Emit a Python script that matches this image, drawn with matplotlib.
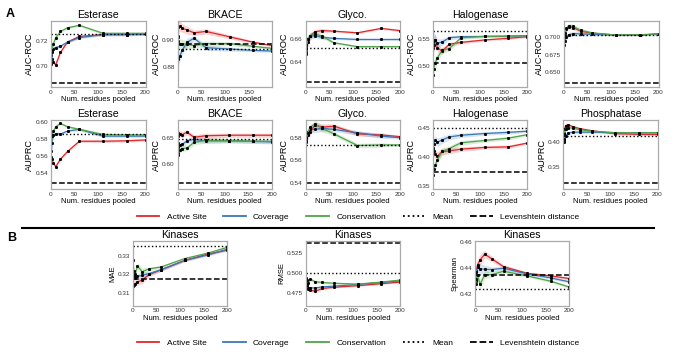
import matplotlib
matplotlib.use("Agg")
import matplotlib.pyplot as plt
from matplotlib.lines import Line2D
from matplotlib.ticker import MultipleLocator, FormatStrFormatter

plt.rcParams['font.family'] = ['Liberation Sans', 'DejaVu Sans']

# number of residues pooled
x = [1, 2, 5, 10, 20, 35, 60, 110, 160, 200]

# ---- panel A, AUC-ROC row ----
est_roc_red = [0.709, 0.706, 0.703, 0.701, 0.711, 0.7195, 0.724, 0.7255, 0.7255, 0.726]
est_roc_blue = [0.702, 0.711, 0.714, 0.715, 0.716, 0.7195, 0.723, 0.7255, 0.7255, 0.7258]
est_roc_green = [0.711, 0.713, 0.718, 0.723, 0.728, 0.731, 0.733, 0.7265, 0.7265, 0.7265]
est_roc_band = [0.002, 0.002, 0.0015, 0.0015, 0.001, 0.001, 0.001, 0.001, 0.001, 0.001]

bk_roc_red = [0.903, 0.909, 0.910, 0.9085, 0.907, 0.905, 0.906, 0.902, 0.898, 0.8955]
bk_roc_blue = [0.887, 0.886, 0.888, 0.892, 0.898, 0.901, 0.894, 0.893, 0.892, 0.8915]
bk_roc_green = [0.902, 0.899, 0.897, 0.897, 0.8965, 0.8955, 0.897, 0.897, 0.895, 0.8935]
bk_roc_band = [0.006, 0.005, 0.004, 0.003, 0.003, 0.002, 0.002, 0.0015, 0.001, 0.001]

gly_roc_red = [0.649, 0.652, 0.658, 0.663, 0.667, 0.668, 0.6675, 0.666, 0.670, 0.668]
gly_roc_blue = [0.647, 0.655, 0.660, 0.663, 0.6635, 0.662, 0.661, 0.660, 0.660, 0.660]
gly_roc_green = [0.651, 0.655, 0.660, 0.6635, 0.665, 0.663, 0.657, 0.6535, 0.6535, 0.6535]
gly_roc_band = [0.01, 0.006, 0.004, 0.003, 0.002, 0.002, 0.001, 0.001, 0.001, 0.001]

hal_roc_red = [0.535, 0.540, 0.548, 0.535, 0.528, 0.541, 0.5445, 0.549, 0.552, 0.555]
hal_roc_blue = [0.545, 0.549, 0.548, 0.543, 0.545, 0.553, 0.555, 0.5555, 0.556, 0.557]
hal_roc_green = [0.485, 0.495, 0.506, 0.516, 0.530, 0.533, 0.553, 0.5555, 0.556, 0.557]
hal_roc_band = [0.02, 0.015, 0.012, 0.008, 0.006, 0.004, 0.003, 0.002, 0.002, 0.002]

pho_roc_red = [0.696, 0.703, 0.711, 0.714, 0.713, 0.708, 0.705, 0.7025, 0.7025, 0.704]
pho_roc_blue = [0.689, 0.694, 0.700, 0.703, 0.7045, 0.704, 0.7035, 0.7025, 0.7025, 0.704]
pho_roc_green = [0.700, 0.706, 0.712, 0.7155, 0.7145, 0.709, 0.7055, 0.7025, 0.703, 0.704]
pho_roc_band = [0.006, 0.005, 0.004, 0.003, 0.003, 0.003, 0.002, 0.001, 0.001, 0.001]

# ---- panel A, AUPRC row ----
est_prc_red = [0.558, 0.556, 0.551, 0.547, 0.556, 0.565, 0.577, 0.577, 0.5775, 0.5785]
est_prc_blue = [0.565, 0.575, 0.584, 0.586, 0.5855, 0.589, 0.591, 0.583, 0.583, 0.583]
est_prc_green = [0.575, 0.583, 0.589, 0.594, 0.598, 0.594, 0.591, 0.585, 0.5845, 0.5845]
est_prc_band = [0.002, 0.002, 0.002, 0.002, 0.0015, 0.0015, 0.0015, 0.0015, 0.0015, 0.0015]

bk_prc_red = [0.655, 0.660, 0.659, 0.657, 0.662, 0.652, 0.655, 0.656, 0.656, 0.656]
bk_prc_blue = [0.633, 0.640, 0.637, 0.638, 0.645, 0.648, 0.645, 0.645, 0.644, 0.643]
bk_prc_green = [0.617, 0.622, 0.628, 0.630, 0.631, 0.642, 0.646, 0.6455, 0.6445, 0.644]
bk_prc_band = [0.008, 0.007, 0.006, 0.006, 0.005, 0.005, 0.005, 0.004, 0.004, 0.004]

gly_prc_red = [0.578, 0.580, 0.583, 0.586, 0.592, 0.590, 0.591, 0.584, 0.583, 0.5815]
gly_prc_blue = [0.578, 0.582, 0.586, 0.588, 0.588, 0.589, 0.588, 0.585, 0.582, 0.5805]
gly_prc_green = [0.577, 0.580, 0.585, 0.590, 0.593, 0.589, 0.584, 0.5735, 0.574, 0.574]
gly_prc_band = [0.004, 0.004, 0.004, 0.003, 0.003, 0.003, 0.002, 0.002, 0.002, 0.001]

hal_prc_red = [0.412, 0.410, 0.404, 0.401, 0.409, 0.410, 0.413, 0.416, 0.417, 0.4235]
hal_prc_blue = [0.415, 0.422, 0.428, 0.425, 0.429, 0.434, 0.437, 0.440, 0.442, 0.444]
hal_prc_green = [0.368, 0.378, 0.385, 0.395, 0.409, 0.414, 0.424, 0.428, 0.432, 0.438]
hal_prc_band = [0.01, 0.01, 0.008, 0.007, 0.006, 0.005, 0.004, 0.003, 0.003, 0.002]

pho_prc_red = [0.418, 0.425, 0.432, 0.434, 0.430, 0.426, 0.422, 0.416, 0.4145, 0.4145]
pho_prc_blue = [0.400, 0.404, 0.412, 0.417, 0.419, 0.419, 0.419, 0.418, 0.418, 0.418]
pho_prc_green = [0.405, 0.415, 0.425, 0.428, 0.427, 0.424, 0.421, 0.418, 0.4175, 0.418]
pho_prc_band = [0.004, 0.004, 0.004, 0.003, 0.003, 0.003, 0.002, 0.002, 0.002, 0.002]

# ---- panel B, kinases ----
mae_red = [0.314, 0.3145, 0.315, 0.316, 0.317, 0.320, 0.3225, 0.3275, 0.331, 0.333]
mae_blue = [0.322, 0.319, 0.318, 0.319, 0.3195, 0.3205, 0.3225, 0.3275, 0.3305, 0.3335]
mae_green = [0.3275, 0.322, 0.320, 0.3245, 0.3215, 0.323, 0.324, 0.3285, 0.3315, 0.3345]
mae_band = [0.002, 0.002, 0.0015, 0.0015, 0.002, 0.001, 0.0008, 0.0006, 0.0006, 0.0006]

rmse_red = [0.487, 0.483, 0.480, 0.479, 0.4775, 0.481, 0.4825, 0.4845, 0.487, 0.489]
rmse_blue = [0.490, 0.485, 0.481, 0.482, 0.4815, 0.483, 0.484, 0.486, 0.4885, 0.4905]
rmse_green = [0.494, 0.491, 0.488, 0.4925, 0.4895, 0.4885, 0.4875, 0.4865, 0.489, 0.4915]
rmse_band = [0.003, 0.003, 0.002, 0.002, 0.002, 0.0015, 0.001, 0.001, 0.001, 0.001]

sp_red = [0.4345, 0.438, 0.4425, 0.446, 0.4505, 0.447, 0.441, 0.436, 0.434, 0.432]
sp_blue = [0.430, 0.437, 0.441, 0.4395, 0.439, 0.4388, 0.4398, 0.4355, 0.4325, 0.4295]
sp_green = [0.428, 0.432, 0.4345, 0.4275, 0.4348, 0.435, 0.4375, 0.434, 0.430, 0.4255]
sp_band = [0.006, 0.005, 0.004, 0.004, 0.003, 0.002, 0.0015, 0.001, 0.001, 0.001]

W, H = 676, 362
red, blue, green = '#e3262b', '#3a77b5', '#4fa448'

fig = plt.figure(figsize=(W / 100, H / 100), dpi=100)


def box(l, t, r, b):
    return [l / W, 1 - b / H, (r - l) / W, (b - t) / H]


def panel(rect, title, ylabel, series, band, mean, lev, ylim, yticks, fmt, xmax=200,
          ylsize=6.6):
    ax = fig.add_axes(rect)
    for vals, c in series:
        lo = [v - b for v, b in zip(vals, band)]
        hi = [v + b for v, b in zip(vals, band)]
        ax.fill_between(x, lo, hi, color=c, alpha=0.2, lw=0)
        ax.plot(x, vals, color=c, lw=0.9, marker='s', ms=1.1, mfc='k', mec='k')
    ax.axhline(mean, color='k', ls=':', lw=1)
    ax.axhline(lev, color='k', ls='--', lw=1.1)
    ax.set_xlim(0, xmax)
    ax.set_ylim(*ylim)
    ax.xaxis.set_major_locator(MultipleLocator(50))
    ax.set_yticks(yticks)
    ax.yaxis.set_major_formatter(FormatStrFormatter(fmt))
    ax.tick_params(length=0, pad=2, labelsize=4.6, labelcolor='#333333')
    for s in ax.spines.values():
        s.set_color('#aaaaaa')
        s.set_linewidth(0.9)
    if title:
        ax.set_title(title, fontsize=7.6, pad=2)
    ax.set_ylabel(ylabel, fontsize=ylsize, labelpad=1)
    ax.set_xlabel('Num. residues pooled', fontsize=5.5, labelpad=1)
    return ax


lefts = [51, 177.5, 305.5, 432.7, 564]
r1 = (21, 87)
r2 = (120, 189.3)

panel(box(lefts[0], r1[0], lefts[0] + 94.5, r1[1]), 'Esterase', 'AUC-ROC',
      [(est_roc_red, red), (est_roc_blue, blue), (est_roc_green, green)], est_roc_band,
      0.7256, 0.6864, (0.683, 0.7365), [0.70, 0.72], '%.2f')
panel(box(lefts[1], r1[0], lefts[1] + 94.5, r1[1]), 'BKACE', 'AUC-ROC',
      [(bk_roc_red, red), (bk_roc_blue, blue), (bk_roc_green, green)], bk_roc_band,
      0.8934, 0.897, (0.865, 0.9137), [0.88, 0.90], '%.2f', xmax=199)
panel(box(lefts[2], r1[0], lefts[2] + 94.5, r1[1]), 'Glyco.', 'AUC-ROC',
      [(gly_roc_red, red), (gly_roc_blue, blue), (gly_roc_green, green)], gly_roc_band,
      0.6525, 0.6212, (0.617, 0.6767), [0.64, 0.66], '%.2f')
panel(box(lefts[3], r1[0], lefts[3] + 94.5, r1[1]), 'Halogenase', 'AUC-ROC',
      [(hal_roc_red, red), (hal_roc_blue, blue), (hal_roc_green, green)], hal_roc_band,
      0.5659, 0.5061, (0.462, 0.584), [0.50, 0.55], '%.2f')
panel(box(lefts[4], r1[0], lefts[4] + 94.5, r1[1]), '', 'AUC-ROC',
      [(pho_roc_red, red), (pho_roc_blue, blue), (pho_roc_green, green)], pho_roc_band,
      0.7025, 0.6352, (0.6296, 0.7222), [0.650, 0.675, 0.700], '%.3f')

panel(box(lefts[0], r2[0], lefts[0] + 94.5, r2[1]), 'Esterase', 'AUPRC',
      [(est_prc_red, red), (est_prc_blue, blue), (est_prc_green, green)], est_prc_band,
      0.585, 0.528, (0.5204, 0.602), [0.54, 0.56, 0.58, 0.60], '%.2f')
panel(box(lefts[1], r2[0], lefts[1] + 94.5, r2[1]), 'BKACE', 'AUPRC',
      [(bk_prc_red, red), (bk_prc_blue, blue), (bk_prc_green, green)], bk_prc_band,
      0.648, 0.5636, (0.5508, 0.6856), [0.60, 0.65], '%.2f')
panel(box(lefts[2], r2[0], lefts[2] + 94.5, r2[1]), 'Glyco.', 'AUPRC',
      [(gly_prc_red, red), (gly_prc_blue, blue), (gly_prc_green, green)], gly_prc_band,
      0.574, 0.5395, (0.534, 0.5965), [0.54, 0.56, 0.58], '%.2f')
panel(box(lefts[3], r2[0], lefts[3] + 94.5, r2[1]), 'Halogenase', 'AUPRC',
      [(hal_prc_red, red), (hal_prc_blue, blue), (hal_prc_green, green)], hal_prc_band,
      0.4495, 0.3741, (0.3438, 0.4633), [0.35, 0.40, 0.45], '%.2f')
panel(box(lefts[4] - 0.7, r2[0], lefts[4] + 93.5, r2[1]), 'Phosphatase', 'AUPRC',
      [(pho_prc_red, red), (pho_prc_blue, blue), (pho_prc_green, green)], pho_prc_band,
      0.412, 0.318, (0.3048, 0.4433), [0.35, 0.40], '%.2f')

# panel B
rb = (241, 305.5)
panel(box(132.7, rb[0], 227.3, rb[1]), 'Kinases', 'MAE',
      [(mae_red, red), (mae_blue, blue), (mae_green, green)], mae_band,
      0.3353, 0.3175, (0.3034, 0.3379), [0.31, 0.32, 0.33], '%.2f', ylsize=5.5)
panel(box(305.7, rb[0], 400, rb[1]), 'Kinases', 'RMSE',
      [(rmse_red, red), (rmse_blue, blue), (rmse_green, green)], rmse_band,
      0.500, 0.5375, (0.4597, 0.5404), [0.475, 0.500, 0.525], '%.3f', ylsize=5.5)
panel(box(475.3, rb[0], 569.3, rb[1]), 'Kinases', 'Spearman',
      [(sp_red, red), (sp_blue, blue), (sp_green, green)], sp_band,
      0.4238, 0.435, (0.4115, 0.4605), [0.42, 0.44, 0.46], '%.2f', ylsize=5.5)

handles = [Line2D([], [], color=red, lw=1.3), Line2D([], [], color=blue, lw=1.3),
           Line2D([], [], color=green, lw=1.3), Line2D([], [], color='k', ls=':', lw=1.3),
           Line2D([], [], color='k', ls='--', lw=1.3)]
labels = ['Active Site', 'Coverage', 'Conservation', 'Mean', 'Levenshtein distance']
for ly in (217, 343):
    fig.legend(handles, labels, loc='center', bbox_to_anchor=(358 / W, 1 - ly / H),
               ncol=5, frameon=False, fontsize=6, handlelength=2.7,
               handletextpad=0.9, columnspacing=2.0)

fig.add_artist(Line2D([22 / W, 654 / W], [1 - 228 / H] * 2, color='k', lw=1.5))
fig.text(10.5 / W, 1 - 14 / H, 'A', fontsize=9, fontweight='bold', ha='center', va='center')
fig.text(12 / W, 1 - 238 / H, 'B', fontsize=9, fontweight='bold', ha='center', va='center')

fig.savefig('out.png', dpi=100)
